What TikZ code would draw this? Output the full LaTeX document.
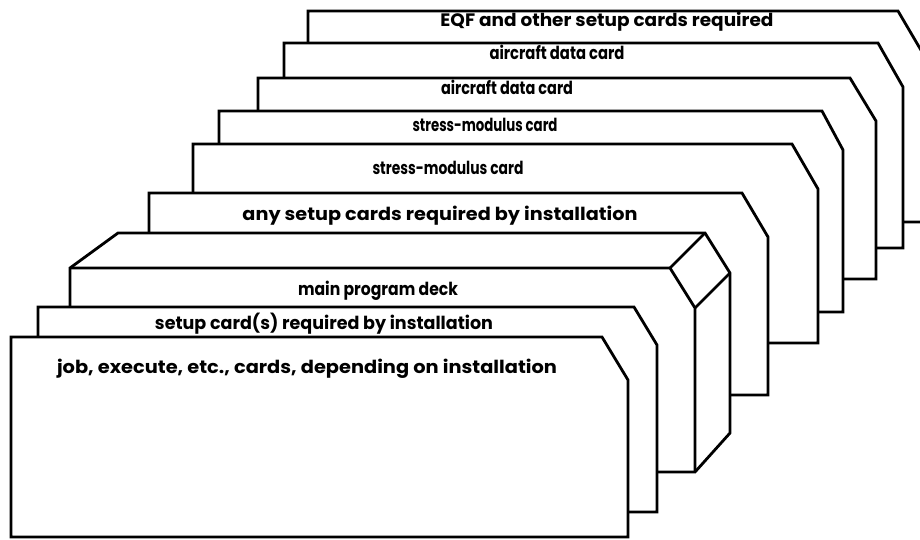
\documentclass[tikz,border=0pt]{standalone}
\usepackage{fontspec}
\setmainfont{Poppins}
\usepackage{graphicx}
\usepackage{tikz}

% label text squeezed or stretched to the width it has on the card
\newcommand{\cardtext}[2]{\resizebox{#1pt}{\height}{#2}}

\tikzset{
  card/.style={fill=white, draw=black, line width=2.8pt},
  edge/.style={draw=black, line width=2.8pt},
  lbl/.style={anchor=base, inner sep=0pt, font=\fontsize{18}{20}\selectfont\bfseries}
}

\begin{document}
\begin{tikzpicture}[x=1pt, y=-1pt]
    \useasboundingbox (0,0) rectangle (920,540);

    % back cards first
    \filldraw[card] (308,11) -- (898,11) -- (925,57) -- (925,222) -- (308,222) -- cycle;
    \filldraw[card] (284,43) -- (878,43) -- (903,87) -- (903,248) -- (284,248) -- cycle;
    \filldraw[card] (258,78) -- (850,78) -- (876,121) -- (876,279) -- (258,279) -- cycle;
    \filldraw[card] (219,111) -- (822,111) -- (843,150) -- (843,312) -- (219,312) -- cycle;
    \filldraw[card] (193,144) -- (792,144) -- (818,189) -- (818,343) -- (193,343) -- cycle;
    \filldraw[card] (149,193) -- (742,193) -- (768,237) -- (768,395) -- (149,395) -- cycle;

    % main program deck (box)
    \filldraw[card] (70,268) -- (118,233) -- (705,233) -- (730,273) -- (730,433)
        -- (695,472) -- (70,472) -- cycle;
    \draw[edge] (70,268) -- (670,268) -- (695,308) -- (695,472);
    \draw[edge] (670,268) -- (705,233);
    \draw[edge] (695,308) -- (730,273);

    % front cards
    \filldraw[card] (38,307) -- (634,307) -- (657,345) -- (657,512) -- (38,512) -- cycle;
    \filldraw[card] (11,337) -- (602,337) -- (628,380) -- (628,537) -- (11,537) -- cycle;

    \node[lbl] (eqf) at (607,27) {\cardtext{333}{EQF and other setup cards required}};
    \node[lbl] (air2) at (557,60) {\cardtext{135}{aircraft data card}};
    \node[lbl] (air1) at (507,95) {\cardtext{132}{aircraft data card}};
    \node[lbl] (sm2) at (485,132) {\cardtext{145}{stress-modulus card}};
    \node[lbl] (sm1) at (448,175) {\cardtext{151}{stress-modulus card}};
    \node[lbl] (anyset) at (440,220) {\cardtext{395}{any setup cards required by installation}};
    \node[lbl] (deck) at (378,295) {\cardtext{160}{main program deck}};
    \node[lbl] (setup) at (324,329) {\cardtext{338}{setup card(s) required by installation}};
    \node[lbl] (job) at (307,373) {\cardtext{500}{job, execute, etc., cards, depending on installation}};
\end{tikzpicture}
\end{document}
